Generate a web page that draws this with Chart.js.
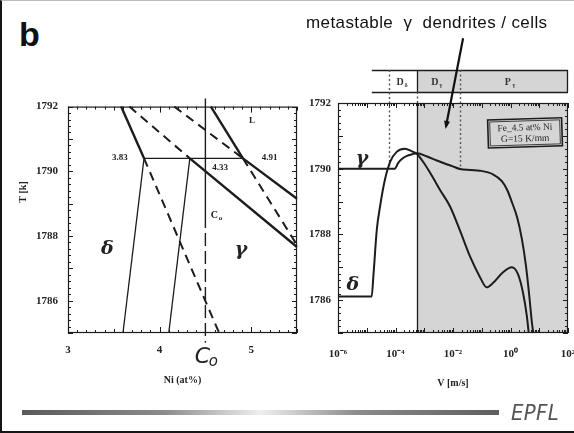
<!DOCTYPE html>
<html>
<head>
<meta charset="utf-8">
<script src="https://cdn.jsdelivr.net/npm/chart.js@4.4.0/dist/chart.umd.min.js"></script>
<style>
  html, body { margin: 0; padding: 0; background: #fff; overflow: hidden; width: 574px; height: 433px; }
  #frame { position: absolute; left: 0; top: 0; width: 574px; height: 433px; box-sizing: border-box;
           border-left: 2px solid #151515; border-bottom: 2px solid #151515; border-top: 1px solid #bbb; }
  canvas { position: absolute; }
  #phase { left: 0; top: 90px; }
  #speed { left: 300px; top: 0; }
  .txt { position: absolute; white-space: pre; color: #111; line-height: 1; }
  #panel { left: 19px; top: 15px; font: bold 34px "Liberation Sans", Arial, sans-serif; }
  #note { left: 306px; top: 13px; font: 17px "Liberation Sans", Arial, sans-serif; letter-spacing: 0.4px; }
  #bar { position: absolute; left: 22px; top: 410px; width: 477px; height: 5px;
         background: linear-gradient(to right, #5a5a5a 0%, #8c8c8c 30%, #efefef 50%, #8c8c8c 70%, #5e5e5e 100%); }
  #epfl { left: 511px; top: 400px; color: #555; font: italic 300 22px "DejaVu Sans Condensed", "Open Sans", sans-serif; letter-spacing: 0.3px; }
</style>
</head>
<body>
<div id="frame"></div>
<canvas id="phase" width="305" height="305"></canvas>
<canvas id="speed" width="274" height="395"></canvas>
<div class="txt" id="panel">b</div>
<div class="txt" id="note">metastable  γ  dendrites / cells</div>
<div id="bar"></div>
<div class="txt" id="epfl">EPFL</div>

<script>
// ---------- Fe-Ni phase diagram near the peritectic ----------
const niTicks = [3, 4, 5];
const tempTicks = [1786, 1788, 1790, 1792];
const nominalNi = 4.5;            // C0

// [Ni at%, T K] end points of each line
const deltaLiquidus     = [[3.58, 1792], [3.83, 1790.4]];
const deltaLiquidusMeta = [[3.83, 1790.4], [4.65, 1785]];
const deltaSolidus      = [[3.83, 1790.4], [3.60, 1785]];
const gammaSolidus      = [[4.33, 1790.4], [4.10, 1785]];
const gammaLiquidus     = [[4.33, 1790.4], [5.5, 1787.66]];
const gammaLiquidusMeta = [[3.67, 1792], [4.33, 1790.4]];
const peritectic        = [[3.83, 1790.4], [4.91, 1790.4]];
const steepLiquidus     = [[4.56, 1792], [4.91, 1790.4]];
const steepLiquidusMeta = [[4.91, 1790.4], [5.5, 1787.72]];
const flatLiquidus      = [[4.91, 1790.4], [5.5, 1789.15]];
const flatLiquidusMeta  = [[4.16, 1792], [4.91, 1790.4]];
const nominalSolid      = [[4.5, 1792.25], [4.5, 1788.65]];
const nominalDashed     = [[4.5, 1788.65], [4.5, 1784.7]];

// text placed in the diagram (Ni at%, T K)
const phaseNotes = [
  { text: '3.83', x: 3.565, y: 1790.42 },
  { text: '4.33', x: 4.66,  y: 1790.12 },
  { text: '4.91', x: 5.20,  y: 1790.42 },
  { text: 'L',    x: 5.01,  y: 1791.55 }
];
const phaseNames = [
  { text: 'δ', x: 3.43, y: 1787.6 },
  { text: 'γ', x: 4.89, y: 1787.55 }
];

// ---------- interface temperature vs. growth velocity ----------
const velocityTicks = [1e-6, 1e-4, 1e-2, 1, 100];
const velocityTickLabels = ['10⁻⁶', '10⁻⁴', '10⁻²', '10⁰', '10²'];

const gammaV = [1e-6, 9.5e-5, 1.23e-4, 1.7e-4, 2.5e-4, 4.1e-4, 5.6e-4, 1.26e-3, 2.75e-3, 6.3e-3, 9.3e-3,
                1.74e-2, 4.0e-2, 8.7e-2, 0.245, 0.50, 0.79, 1.12, 1.7, 2.5, 3.47, 4.37, 5.5, 6.2];
const gammaT = [1790, 1790, 1790.17, 1790.30, 1790.39, 1790.45, 1790.47, 1790.37, 1790.25, 1790.13, 1790.08,
                1789.99, 1789.96, 1789.94, 1789.83, 1789.62, 1789.33, 1788.98, 1788.52, 1787.85, 1787.03, 1786.24, 1785.35, 1785];

const deltaV = [1e-6, 1.48e-5, 1.7e-5, 2.24e-5, 2.9e-5, 4.3e-5, 6.5e-5, 1.12e-4, 2.14e-4, 3.7e-4, 5.6e-4,
                1.07e-3, 2.0e-3, 3.5e-3, 7.9e-3, 1.74e-2, 3.9e-2, 8.7e-2, 0.148, 0.245, 0.55, 1.12, 1.82, 2.7, 3.7, 4.3];
const deltaT = [1786.11, 1786.11, 1786.73, 1788.15, 1788.85, 1789.67, 1790.21, 1790.52, 1790.61, 1790.53, 1790.45,
                1790.12, 1789.73, 1789.36, 1788.85, 1788.12, 1787.33, 1786.70, 1786.39, 1786.52, 1786.85, 1787.0, 1786.79, 1786.24, 1785.52, 1785.0];

// growth-regime boundaries (m/s)
const bandStart = 1.5e-5;
const gammaDendriteStart = 5.6e-4;
const regimeDotted = [5.9e-5, 1.74e-2];
const regimeLabels = [
  { main: 'D', sub: 'δ', v: 1.7e-4 },
  { main: 'D', sub: 'γ', v: 2.75e-3 },
  { main: 'P', sub: 'γ', v: 0.95 }
];
const speedNames = [
  { text: 'γ', v: 6.8e-6, t: 1790.3 },
  { text: 'δ', v: 3.3e-6, t: 1786.45 }
];
const alloyBox = { lines: ['Fe_4.5 at% Ni', 'G=15 K/mm'], v: 3.2, t: 1791.09 };
const arrowFrom = { v: 2.24e-2, t: 1793.97 };
const arrowTo   = { v: 5.75e-3, t: 1791.3 };

const INK = '#1c1c1c';
const tickFont = { family: '"Liberation Serif", "Times New Roman", serif', weight: 'bold', size: 11 };
const serifBold = (px) => 'bold ' + px + 'px "Liberation Serif", "Times New Roman", serif';

const pts = (pairs) => pairs.map(([x, y]) => ({ x, y }));
const line = (pairs, width, dash) => ({
  data: pts(pairs), showLine: true, pointRadius: 0, borderColor: INK, borderWidth: width,
  borderDash: dash || [], clip: false, tension: 0
});

function frameAndTicks(ctx, a, xScale, yScale, xMarks) {
  ctx.strokeStyle = INK;
  ctx.lineWidth = 1.2;
  ctx.strokeRect(a.left + 0.5, a.top + 0.5, a.right - a.left - 1, a.bottom - a.top - 1);
  ctx.lineWidth = 1;
  ctx.beginPath();
  xMarks.forEach(([v, len]) => {
    const px = Math.round(xScale.getPixelForValue(v)) + 0.5;
    ctx.moveTo(px, a.bottom); ctx.lineTo(px, a.bottom - len);
    ctx.moveTo(px, a.top); ctx.lineTo(px, a.top + len);
  });
  for (let i = 0; i <= 35; i++) {
    const t = 1785 + i * 0.2;
    const len = (i % 5 === 0) ? 5 : 3;
    const py = Math.round(yScale.getPixelForValue(t)) + 0.5;
    ctx.moveTo(a.left, py); ctx.lineTo(a.left + len, py);
    ctx.moveTo(a.right, py); ctx.lineTo(a.right - len, py);
  }
  ctx.stroke();
}

function fixedBox(width, height) {
  return (scale) => {
    if (width !== null) scale.width = width;
    if (height !== null) scale.height = height;
    scale.paddingLeft = 0; scale.paddingRight = 0;
  };
}

// ---------- left chart ----------
const phaseDecor = {
  id: 'phaseDecor',
  afterDatasetsDraw(chart) {
    const { ctx, chartArea: a, scales: { x, y } } = chart;
    ctx.save();
    const marks = [];
    for (let i = 30; i <= 55; i++) marks.push([i / 10, i % 10 === 0 ? 6 : (i % 5 === 0 ? 4 : 3)]);
    frameAndTicks(ctx, a, x, y, marks);

    ctx.fillStyle = '#222';
    ctx.font = serifBold(9);
    ctx.textAlign = 'center'; ctx.textBaseline = 'middle';
    phaseNotes.forEach(n => ctx.fillText(n.text, x.getPixelForValue(n.x), y.getPixelForValue(n.y)));

    // C0 marker inside the diagram
    const cx = x.getPixelForValue(nominalNi + 0.12), cy = y.getPixelForValue(1788.64);
    ctx.font = serifBold(10);
    ctx.fillText('C', cx - 2, cy);
    ctx.font = serifBold(7);
    ctx.fillText('o', cx + 4, cy + 3);

    ctx.font = 'italic bold 19px "DejaVu Serif", serif';
    phaseNames.forEach(n => ctx.fillText(n.text, x.getPixelForValue(n.x), y.getPixelForValue(n.y)));

    // hand-written C0 under the axis
    const hx = x.getPixelForValue(nominalNi);
    ctx.font = 'italic 22px "DejaVu Sans", sans-serif';
    ctx.fillText('C', hx - 3, a.bottom + 24);
    ctx.font = 'italic 15px "DejaVu Sans", sans-serif';
    ctx.fillText('o', hx + 8, a.bottom + 29);

    // temperature axis title
    ctx.save();
    ctx.translate(23, y.getPixelForValue(1789.36));
    ctx.rotate(-Math.PI / 2);
    ctx.font = serifBold(10);
    ctx.fillText('T [k]', 0, 0);
    ctx.restore();
    ctx.restore();
  }
};

new Chart(document.getElementById('phase'), {
  type: 'scatter',
  data: {
    datasets: [
      line(deltaLiquidus, 2.4),
      line(deltaLiquidusMeta, 2, [9, 6]),
      line(deltaSolidus, 1.3),
      line(gammaSolidus, 1.3),
      line(gammaLiquidus, 2.4),
      line(gammaLiquidusMeta, 2, [9, 6]),
      line(peritectic, 1.3),
      line(steepLiquidus, 2.4),
      line(steepLiquidusMeta, 2, [9, 6]),
      line(flatLiquidus, 2.4),
      line(flatLiquidusMeta, 2, [9, 6]),
      line(nominalSolid, 1.4),
      line(nominalDashed, 1.4, [13, 5])
    ]
  },
  options: {
    responsive: false, animation: false, events: [],
    layout: { padding: { top: 13, right: 8, left: 0, bottom: 0 } },
    plugins: { legend: { display: false }, tooltip: { enabled: false } },
    scales: {
      x: {
        type: 'linear', min: 3, max: 5.5,
        grid: { display: false, drawTicks: false }, border: { display: false },
        afterBuildTicks: (s) => { s.ticks = niTicks.map(v => ({ value: v })); },
        afterFit: fixedBox(null, 62),
        ticks: { font: tickFont, color: '#222', padding: 11, maxRotation: 0, callback: (v) => String(v) },
        title: { display: true, text: 'Ni (at%)', font: { family: tickFont.family, weight: 'bold', size: 10 }, color: '#222', padding: { top: 0, bottom: 9 } }
      },
      y: {
        type: 'linear', min: 1785, max: 1792,
        grid: { display: false, drawTicks: false }, border: { display: false },
        afterBuildTicks: (s) => { s.ticks = tempTicks.map(v => ({ value: v })); },
        afterFit: fixedBox(68, null),
        ticks: { font: tickFont, color: '#222', padding: 10, callback: (v) => String(v) }
      }
    }
  },
  plugins: [phaseDecor]
});

// ---------- right chart ----------
const speedDecor = {
  id: 'speedDecor',
  beforeDatasetsDraw(chart) {
    const { ctx, chartArea: a, scales: { x, y } } = chart;
    ctx.save();
    const xs = x.getPixelForValue(gammaDendriteStart);
    const x0 = x.getPixelForValue(bandStart);
    const bandTop = a.top - 33, bandBot = a.top - 11;
    ctx.fillStyle = '#d5d5d5';
    ctx.fillRect(xs, a.top, a.right - xs, a.bottom - a.top);
    ctx.fillRect(xs, bandTop, a.right - xs, bandBot - bandTop);

    ctx.strokeStyle = INK; ctx.lineWidth = 1.3;
    ctx.beginPath();
    ctx.moveTo(x0, bandTop + 0.5); ctx.lineTo(a.right, bandTop + 0.5);
    ctx.moveTo(x0, bandBot + 0.5); ctx.lineTo(a.right, bandBot + 0.5);
    ctx.moveTo(a.right - 0.5, bandTop); ctx.lineTo(a.right - 0.5, bandBot);
    ctx.moveTo(Math.round(xs) + 0.5, bandTop); ctx.lineTo(Math.round(xs) + 0.5, bandBot);
    ctx.moveTo(Math.round(xs) + 0.5, a.top); ctx.lineTo(Math.round(xs) + 0.5, a.bottom);
    ctx.stroke();

    ctx.lineWidth = 1.4;
    ctx.setLineDash([2, 2.5]);
    ctx.strokeStyle = '#555';
    ctx.beginPath();
    regimeDotted.forEach(v => {
      const px = Math.round(x.getPixelForValue(v)) + 0.5;
      ctx.moveTo(px, bandTop); ctx.lineTo(px, y.getPixelForValue(1790));
    });
    ctx.moveTo(Math.round(xs) + 0.5, bandBot); ctx.lineTo(Math.round(xs) + 0.5, a.top);
    ctx.stroke();
    ctx.setLineDash([]);

    ctx.fillStyle = '#333';
    ctx.textAlign = 'center'; ctx.textBaseline = 'middle';
    const midBand = (bandTop + bandBot) / 2 + 1;
    regimeLabels.forEach(r => {
      const px = x.getPixelForValue(r.v);
      ctx.font = serifBold(10);
      ctx.fillText(r.main, px - 2, midBand);
      ctx.font = serifBold(6);
      ctx.fillText(r.sub, px + 4, midBand + 3);
    });
    ctx.restore();
  },
  afterDatasetsDraw(chart) {
    const { ctx, chartArea: a, scales: { x, y } } = chart;
    ctx.save();
    const marks = [];
    for (let e = -6; e <= 1; e++) for (let m = 1; m <= 9; m++) marks.push([m * Math.pow(10, e), m === 1 ? 5 : 3]);
    marks.push([100, 5]);
    frameAndTicks(ctx, a, x, y, marks);

    ctx.fillStyle = '#222';
    ctx.textAlign = 'center'; ctx.textBaseline = 'middle';
    ctx.font = 'italic bold 19px "DejaVu Serif", serif';
    speedNames.forEach(n => ctx.fillText(n.text, x.getPixelForValue(n.v), y.getPixelForValue(n.t)));

    // alloy / gradient box
    const bx = x.getPixelForValue(alloyBox.v), by = y.getPixelForValue(alloyBox.t);
    ctx.save();
    ctx.translate(bx, by);
    ctx.rotate(-0.03);
    ctx.strokeStyle = INK; ctx.lineWidth = 1.6;
    ctx.strokeRect(-37, -14, 74, 28);
    ctx.lineWidth = 0.8;
    ctx.strokeRect(-35, -12, 70, 24);
    ctx.font = '9.5px "Liberation Serif", serif';
    ctx.fillStyle = '#222';
    ctx.fillText(alloyBox.lines[0], 0, -5);
    ctx.fillText(alloyBox.lines[1], 0, 6);
    ctx.restore();

    // arrow from the annotation into the dendritic range
    const ax0 = x.getPixelForValue(arrowFrom.v), ay0 = y.getPixelForValue(arrowFrom.t);
    const ax1 = x.getPixelForValue(arrowTo.v), ay1 = y.getPixelForValue(arrowTo.t);
    ctx.strokeStyle = '#111'; ctx.lineWidth = 2.2;
    ctx.beginPath(); ctx.moveTo(ax0, ay0); ctx.lineTo(ax1, ay1); ctx.stroke();
    const ang = Math.atan2(ay1 - ay0, ax1 - ax0);
    ctx.fillStyle = '#111';
    ctx.beginPath();
    ctx.moveTo(ax1 + 3 * Math.cos(ang), ay1 + 3 * Math.sin(ang));
    ctx.lineTo(ax1 - 5 * Math.cos(ang) + 3 * Math.sin(ang), ay1 - 5 * Math.sin(ang) - 3 * Math.cos(ang));
    ctx.lineTo(ax1 - 5 * Math.cos(ang) - 3 * Math.sin(ang), ay1 - 5 * Math.sin(ang) + 3 * Math.cos(ang));
    ctx.closePath(); ctx.fill();
    ctx.restore();
  }
};

const curve = (vs, ts) => ({
  data: vs.map((v, i) => ({ x: v, y: ts[i] })), showLine: true, pointRadius: 0,
  borderColor: INK, borderWidth: 2, cubicInterpolationMode: 'monotone', clip: false
});

new Chart(document.getElementById('speed'), {
  type: 'scatter',
  data: { datasets: [curve(gammaV, gammaT), curve(deltaV, deltaT)] },
  options: {
    responsive: false, animation: false, events: [],
    layout: { padding: { top: 103, right: 6, left: 0, bottom: 0 } },
    plugins: { legend: { display: false }, tooltip: { enabled: false } },
    scales: {
      x: {
        type: 'logarithmic', min: 1e-6, max: 100,
        grid: { display: false, drawTicks: false }, border: { display: false },
        afterBuildTicks: (s) => { s.ticks = velocityTicks.map(v => ({ value: v })); },
        afterFit: fixedBox(null, 62),
        ticks: {
          font: tickFont, color: '#222', padding: 15, maxRotation: 0, autoSkip: false,
          callback: (v) => velocityTickLabels[velocityTicks.indexOf(v)] ?? ''
        },
        title: { display: true, text: 'V [m/s]', font: { family: tickFont.family, weight: 'bold', size: 10 }, color: '#222', padding: { top: 0, bottom: 6 } }
      },
      y: {
        type: 'linear', min: 1785, max: 1792,
        grid: { display: false, drawTicks: false }, border: { display: false },
        afterBuildTicks: (s) => { s.ticks = tempTicks.map(v => ({ value: v })); },
        afterFit: fixedBox(38, null),
        ticks: { font: tickFont, color: '#222', padding: 7, callback: (v) => String(v) }
      }
    }
  },
  plugins: [speedDecor]
});
</script>
</body>
</html>
